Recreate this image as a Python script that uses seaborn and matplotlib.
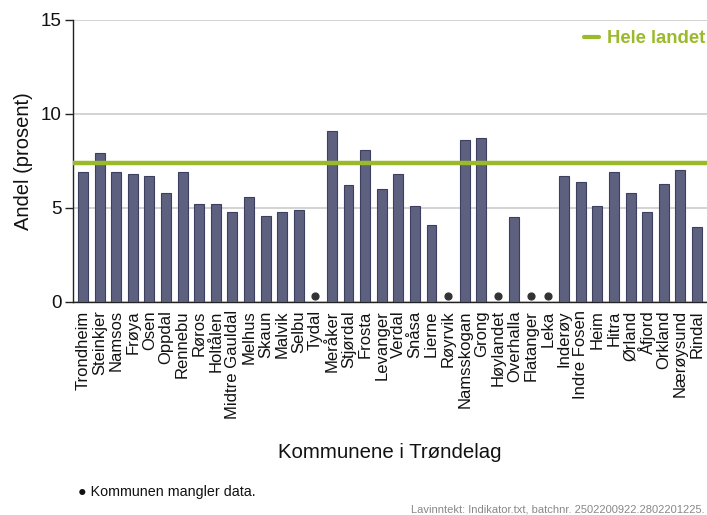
import numpy as np
import pandas as pd
import matplotlib
matplotlib.use("Agg")
import matplotlib.pyplot as plt
from matplotlib.lines import Line2D
import seaborn as sns

kommuner = ["Trondheim", "Steinkjer", "Namsos", "Frøya", "Osen", "Oppdal", "Rennebu",
            "Røros", "Holtålen", "Midtre Gauldal", "Melhus", "Skaun", "Malvik", "Selbu",
            "Tydal", "Meråker", "Stjørdal", "Frosta", "Levanger", "Verdal", "Snåsa",
            "Lierne", "Røyrvik", "Namsskogan", "Grong", "Høylandet", "Overhalla",
            "Flatanger", "Leka", "Inderøy", "Indre Fosen", "Heim", "Hitra", "Ørland",
            "Åfjord", "Orkland", "Nærøysund", "Rindal"]
andel = [6.9, 7.9, 6.9, 6.8, 6.7, 5.8, 6.9,
         5.2, 5.2, 4.8, 5.6, 4.6, 4.8, 4.9,
         np.nan, 9.1, 6.2, 8.1, 6.0, 6.8, 5.1,
         4.1, np.nan, 8.6, 8.7, np.nan, 4.5,
         np.nan, np.nan, 6.7, 6.4, 5.1, 6.9, 5.8,
         4.8, 6.3, 7.0, 4.0]
hele_landet = 7.4
mangler_y = 0.3
y_ticks = [0, 5, 10, 15]

bar_color = "#5e6080"
edge_color = "#3d3f60"
green = "#9bba2a"

sns.set_theme(style="white")
plt.rcParams["font.family"] = ["Liberation Sans", "DejaVu Sans"]

df = pd.DataFrame({"kommune": kommuner, "andel": andel})

fig = plt.figure(figsize=(7.07, 5.15), dpi=100)
ax = fig.add_axes([73 / 707, 1 - 302 / 515, 1 - 73 / 707, (302 - 20) / 515])

sns.barplot(data=df, x="kommune", y="andel", color=bar_color, saturation=1,
            width=0.6, edgecolor=edge_color, linewidth=0.8, ax=ax, zorder=3)

missing_idx = [i for i, v in enumerate(andel) if np.isnan(v)]
ax.scatter(missing_idx, [mangler_y] * len(missing_idx), s=24, color="#333333", zorder=4)

ax.axhline(hele_landet, color=green, linewidth=3.2, zorder=5)

ax.set_ylim(0, 15)
ax.set_xlim(-0.6, len(kommuner) - 1 + 0.6)
ax.set_yticks(y_ticks)
ax.yaxis.grid(True, color="#cccccc", linewidth=1.2, zorder=0)
ax.xaxis.grid(False)
for s in ["top", "right"]:
    ax.spines[s].set_visible(False)
ax.spines["left"].set_color("#222222")
ax.spines["bottom"].set_color("#222222")
ax.spines["left"].set_linewidth(1.0)
ax.spines["bottom"].set_linewidth(1.0)
ax.tick_params(axis="y", left=True, length=6, width=1, color="#222222",
               labelsize=13.5, pad=2, labelcolor="#111111")
ax.tick_params(axis="x", bottom=False, labelsize=12, pad=0, labelcolor="#111111")
plt.setp(ax.get_xticklabels(), rotation=90)

ax.set_ylabel("Andel (prosent)", fontsize=14.5, color="#111111", labelpad=6)
ax.set_xlabel("")
fig.text(390 / 707, 1 - 452 / 515, "Kommunene i Trøndelag", ha="center", va="center",
         fontsize=14.7, color="#111111")

handle = Line2D([0], [0], color=green, linewidth=3)
leg = ax.legend(handles=[handle], labels=["Hele landet"], loc="upper right",
                bbox_to_anchor=(1.0095, 0.989), frameon=False, handlelength=0.8,
                handletextpad=0.45, borderaxespad=0.0,
                prop={"weight": "bold", "size": 13.3})
for t in leg.get_texts():
    t.set_color(green)

fig.text(78 / 707, 1 - 492 / 515, "● Kommunen mangler data.", ha="left", va="center",
         fontsize=10.3, color="#111111")
fig.text(705 / 707, 1 - 509 / 515, "Lavinntekt: Indikator.txt, batchnr. 2502200922.2802201225.",
         ha="right", va="center", fontsize=8.0, color="#888888")

fig.savefig("out.png", dpi=100)
